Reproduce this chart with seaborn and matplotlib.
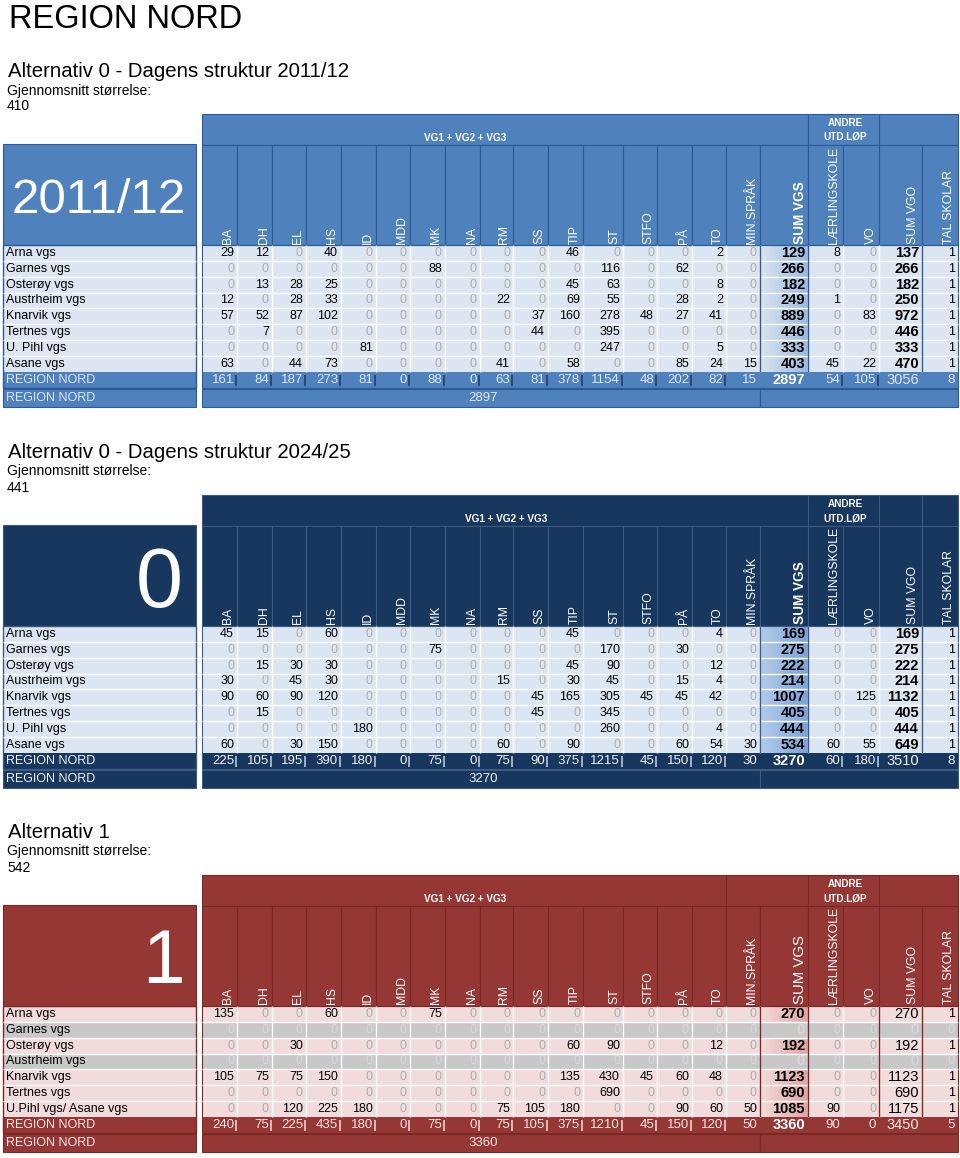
import numpy as np
import seaborn as sns
import matplotlib.pyplot as plt
from matplotlib.colors import ListedColormap, LinearSegmentedColormap
from matplotlib.patches import Rectangle

plt.rcParams['font.family'] = ['Liberation Sans', 'DejaVu Sans']

columns = ["BA", "DH", "EL", "HS", "ID", "MDD", "MK", "NA", "RM", "SS", "TIP",
           "ST", "STFO", "PÅ", "TO", "MIN.SPRÅK", "SUM VGS", "LÆRLINGSKOLE",
           "VO", "SUM VGO", "TAL SKOLAR"]

schools_now = ["Arna vgs", "Garnes vgs", "Osterøy vgs", "Austrheim vgs",
               "Knarvik vgs", "Tertnes vgs", "U. Pihl vgs", "Asane vgs"]
schools_alt1 = ["Arna vgs", "Garnes vgs", "Osterøy vgs", "Austrheim vgs",
                "Knarvik vgs", "Tertnes vgs", "U.Pihl vgs/ Asane vgs"]

titles = ["Alternativ 0 - Dagens struktur 2011/12",
          "Alternativ 0 - Dagens struktur 2024/25",
          "Alternativ 1"]
avg_size = [410, 441, 542]
big_labels = ["2011/12", "0", "1"]
grand_total = [2897, 3270, 3360]

vals_2011 = [
    [29, 12, 0, 40, 0, 0, 0, 0, 0, 0, 46, 0, 0, 0, 2, 0, 129, 8, 0, 137, 1],
    [0, 0, 0, 0, 0, 0, 88, 0, 0, 0, 0, 116, 0, 62, 0, 0, 266, 0, 0, 266, 1],
    [0, 13, 28, 25, 0, 0, 0, 0, 0, 0, 45, 63, 0, 0, 8, 0, 182, 0, 0, 182, 1],
    [12, 0, 28, 33, 0, 0, 0, 0, 22, 0, 69, 55, 0, 28, 2, 0, 249, 1, 0, 250, 1],
    [57, 52, 87, 102, 0, 0, 0, 0, 0, 37, 160, 278, 48, 27, 41, 0, 889, 0, 83, 972, 1],
    [0, 7, 0, 0, 0, 0, 0, 0, 0, 44, 0, 395, 0, 0, 0, 0, 446, 0, 0, 446, 1],
    [0, 0, 0, 0, 81, 0, 0, 0, 0, 0, 0, 247, 0, 0, 5, 0, 333, 0, 0, 333, 1],
    [63, 0, 44, 73, 0, 0, 0, 0, 41, 0, 58, 0, 0, 85, 24, 15, 403, 45, 22, 470, 1],
]
total_2011 = [161, 84, 187, 273, 81, 0, 88, 0, 63, 81, 378, 1154, 48, 202, 82, 15,
              2897, 54, 105, 3056, 8]

vals_2024 = [
    [45, 15, 0, 60, 0, 0, 0, 0, 0, 0, 45, 0, 0, 0, 4, 0, 169, 0, 0, 169, 1],
    [0, 0, 0, 0, 0, 0, 75, 0, 0, 0, 0, 170, 0, 30, 0, 0, 275, 0, 0, 275, 1],
    [0, 15, 30, 30, 0, 0, 0, 0, 0, 0, 45, 90, 0, 0, 12, 0, 222, 0, 0, 222, 1],
    [30, 0, 45, 30, 0, 0, 0, 0, 15, 0, 30, 45, 0, 15, 4, 0, 214, 0, 0, 214, 1],
    [90, 60, 90, 120, 0, 0, 0, 0, 0, 45, 165, 305, 45, 45, 42, 0, 1007, 0, 125, 1132, 1],
    [0, 15, 0, 0, 0, 0, 0, 0, 0, 45, 0, 345, 0, 0, 0, 0, 405, 0, 0, 405, 1],
    [0, 0, 0, 0, 180, 0, 0, 0, 0, 0, 0, 260, 0, 0, 4, 0, 444, 0, 0, 444, 1],
    [60, 0, 30, 150, 0, 0, 0, 0, 60, 0, 90, 0, 0, 60, 54, 30, 534, 60, 55, 649, 1],
]
total_2024 = [225, 105, 195, 390, 180, 0, 75, 0, 75, 90, 375, 1215, 45, 150, 120, 30,
              3270, 60, 180, 3510, 8]

vals_alt1 = [
    [135, 0, 0, 60, 0, 0, 75, 0, 0, 0, 0, 0, 0, 0, 0, 0, 270, 0, 0, 270, 1],
    [0, 0, 0, 0, 0, 0, 0, 0, 0, 0, 0, 0, 0, 0, 0, 0, 0, 0, 0, 0, 0],
    [0, 0, 30, 0, 0, 0, 0, 0, 0, 0, 60, 90, 0, 0, 12, 0, 192, 0, 0, 192, 1],
    [0, 0, 0, 0, 0, 0, 0, 0, 0, 0, 0, 0, 0, 0, 0, 0, 0, 0, 0, 0, 0],
    [105, 75, 75, 150, 0, 0, 0, 0, 0, 0, 135, 430, 45, 60, 48, 0, 1123, 0, 0, 1123, 1],
    [0, 0, 0, 0, 0, 0, 0, 0, 0, 0, 0, 690, 0, 0, 0, 0, 690, 0, 0, 690, 1],
    [0, 0, 120, 225, 180, 0, 0, 0, 75, 105, 180, 0, 0, 90, 60, 50, 1085, 90, 0, 1175, 1],
]
total_alt1 = [240, 75, 225, 435, 180, 0, 75, 0, 75, 105, 375, 1210, 45, 150, 120, 50,
              3360, 90, 0, 3450, 5]

# ---- layout (pixels) ----
W, H = 960, 1158
col_edges = [202, 237, 272, 306, 341, 376, 410, 445, 480, 513, 548, 583, 623,
             657, 692, 726, 760, 808, 843, 879, 922, 958]
ROW_H = 15.85
SUM_VGS, SUM_VGO = 16, 19

styles = [
    dict(off=0, head="#4F81BD", sep="#2D5B95", light="#DCE6F2", sumc="#B4C9E3",
         grad=("#DAE4F0", "#9DB9DE"),
         grey="#C6C6C6", tot_txt="#DCE6F2", bar="#1F3864", group_x=465,
         group_div=[808, 879], vgs_bold=True, vgo_bold=True,
         big_x=99, big_ha="center", big_size=35.5, big_base=213),
    dict(off=381, head="#17375E", sep="#3D5A80", light="#DCE6F2", sumc="#95B8E3",
         grad=("#B4CBEA", "#7BA3D9"),
         grey="#C6C6C6", tot_txt="#F2F2F2", bar="#C5D3E3", group_x=506,
         group_div=[808, 879, 922], vgs_bold=True, vgo_bold=True,
         big_x=183, big_ha="right", big_size=61, big_base=226),
    dict(off=761, head="#953735", sep="#7A2826", light="#F2DCDB", sumc="#E6B9B8",
         grad=("#F2DCDB", "#E2A3A2"),
         grey="#C8C8C8", tot_txt="#F7E6E5", bar="#F2DCDB", group_x=465,
         group_div=[726, 808, 879], vgs_bold=False, vgo_bold=False,
         big_x=185, big_ha="right", big_size=55, big_base=222),
]

fig = plt.figure(figsize=(W / 100, H / 100), dpi=100)
ov = fig.add_axes([0, 0, 1, 1], zorder=10)
ov.set_xlim(0, W)
ov.set_ylim(H, 0)
ov.axis('off')


def add_cells(x0, x1, y0, y1):
    return fig.add_axes([x0 / W, 1 - y1 / H, (x1 - x0) / W, (y1 - y0) / H])


def draw_table(k, rows, vals, total):
    st = styles[k]
    o = st['off']
    n = len(rows)
    grid = np.vstack([vals, total])
    top = 245 + o
    bot = top + ROW_H * (n + 1)
    closed = np.r_[np.asarray(vals).sum(axis=1) == 0, False]

    # colour category per cell: light / sum column / closed school / total row
    cat = np.zeros(grid.shape)
    cat[:, SUM_VGS] = 1
    cat[closed] = 2
    cat[-1] = 3
    cmap = ListedColormap([st['light'], st['sumc'], st['grey'], st['head']])
    kw = dict(cmap=cmap, vmin=0, vmax=3, cbar=False,
              xticklabels=False, yticklabels=False)

    # titles
    ov.text(8, 77 + o, titles[k], fontsize=14.7, va='baseline')
    ov.text(7, 94.5 + o, "Gjennomsnitt størrelse:", fontsize=10, va='baseline')
    ov.text(7, 110.5 + o, str(avg_size[k]), fontsize=10, va='baseline')

    # header block
    ov.add_patch(Rectangle((202, 114 + o), 756, 31, fc=st['head'], ec=st['sep'], lw=0.8))
    ov.vlines(st['group_div'], 114 + o, 145 + o, color=st['sep'], lw=0.8)
    ov.text(st['group_x'], 138 + o, "VG1 + VG2 + VG3", ha='center', va='center',
            color='white', fontsize=7.2, fontweight='bold')
    ov.text(845, 123 + o, "ANDRE", ha='center', va='center', color='white',
            fontsize=7.2, fontweight='bold')
    ov.text(845, 137 + o, "UTD.LØP", ha='center', va='center', color='white',
            fontsize=7.2, fontweight='bold')
    for j, col in enumerate(columns):
        x0, x1 = col_edges[j], col_edges[j + 1]
        ov.add_patch(Rectangle((x0, 145 + o), x1 - x0, 100, fc=st['head'],
                               ec=st['sep'], lw=0.8))
        if j == SUM_VGS:
            size, weight = (9.8, 'bold') if st['vgs_bold'] else (10.8, 'normal')
            pad = 1.5
        else:
            size, weight, pad = 8.8, 'normal', 2.5
        ov.text(x1 - pad, 243.5 + o, col, rotation=90, ha='right', va='bottom',
                color='white', fontsize=size, fontweight=weight)

    ov.add_patch(Rectangle((3, 144 + o), 193, 101, fc=st['head'], ec=st['sep'], lw=0.8))
    ov.text(st['big_x'], st['big_base'] + o, big_labels[k], ha=st['big_ha'],
            va='baseline', color='white', fontsize=st['big_size'])

    # school name column
    lab = cat[:, :1].copy()
    lab[lab == 1] = 0
    ax = add_cells(3, 196, top, bot)
    sns.heatmap(lab, ax=ax, **kw)
    for i, name in enumerate(list(rows) + ["REGION NORD"]):
        ax.text(3.5 / 193, i + 0.5, name, ha='left', va='center', fontsize=9,
                color='black' if i < n else st['tot_txt'])

    # one heatmap per column (columns have different widths)
    grad_cmap = LinearSegmentedColormap.from_list("g", st['grad'])
    for j in range(len(columns)):
        x0, x1 = col_edges[j], col_edges[j + 1]
        ax = add_cells(x0, x1, top, bot)
        sns.heatmap(cat[:, [j]], ax=ax, **kw)
        if j == SUM_VGS:
            # left-to-right shading of the sum column
            for i in range(n):
                if not closed[i]:
                    ax.imshow(np.linspace(0, 1, 50)[None, :], cmap=grad_cmap,
                              extent=[0, 1, i + 1, i], aspect='auto', zorder=1.5)
            ax.set_xlim(0, 1)
            ax.set_ylim(n + 1, 0)
        for i in range(n + 1):
            v = grid[i, j]
            if i == n:
                color = 'white' if j == SUM_VGS else st['tot_txt']
                weight = 'bold' if j == SUM_VGS else 'normal'
                size = 10.5 if j in (SUM_VGS, SUM_VGO) else 9.5
            else:
                if v == 0:
                    color = '#DADADA' if closed[i] else '#ADADAD'
                else:
                    color = 'black'
                big = j == SUM_VGS or (j == SUM_VGO and st['vgo_bold'])
                weight = 'bold' if big else 'normal'
                size = 10.5 if j in (SUM_VGS, SUM_VGO) else 9
            ax.text(1 - 3 / (x1 - x0), i + 0.5, str(v), ha='right', va='center',
                    fontsize=size, fontweight=weight, color=color, zorder=3)

    # cell separators
    school_bot = top + ROW_H * n
    ys = top + ROW_H * np.arange(1, n)
    ov.hlines(ys, 3, 196, color='white', lw=1)
    ov.hlines(ys, 202, 958, color='white', lw=1)
    ov.vlines(col_edges[1:-1], top, school_bot, color='white', lw=1)
    dark = [760, 808, 922] + ([879] if k == 2 else [])
    ov.vlines(dark, top, school_bot, color=st['sep'], lw=1)

    bar_cols = list(range(15)) + ([17, 18] if k < 2 else [])
    ov.vlines([col_edges[j + 1] - 1.5 for j in bar_cols], school_bot + 3, bot - 2,
              color=st['bar'], lw=1.1)

    ov.add_patch(Rectangle((3, top), 193, bot - top, fc='none', ec=st['sep'], lw=1))
    ov.add_patch(Rectangle((202, top), 756, bot - top, fc='none', ec=st['sep'], lw=0.8))

    # second summary row
    y2 = bot + 1.5
    ov.add_patch(Rectangle((3, y2), 193, 17.5, fc=st['head'], ec=st['sep'], lw=0.8))
    ov.text(6.5, y2 + 8.9, "REGION NORD", va='center', fontsize=9, color=st['tot_txt'])
    ov.add_patch(Rectangle((202, y2), 558, 17.5, fc=st['head'], ec=st['sep'], lw=0.8))
    ov.add_patch(Rectangle((760, y2), 198, 17.5, fc=st['head'], ec=st['sep'], lw=0.8))
    ov.text(468, y2 + 8.9, str(grand_total[k]), va='center', fontsize=9.5,
            color=st['tot_txt'])


ov.text(9, 28, "REGION NORD", fontsize=23.5, va='baseline')
draw_table(0, schools_now, vals_2011, total_2011)
draw_table(1, schools_now, vals_2024, total_2024)
draw_table(2, schools_alt1, vals_alt1, total_alt1)

fig.savefig("out.png", dpi=100)
